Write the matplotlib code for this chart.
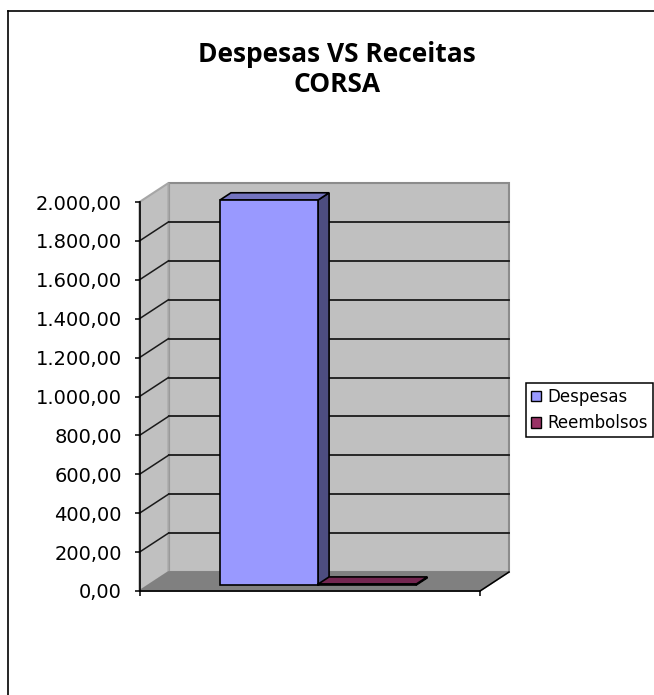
import matplotlib
matplotlib.use('Agg')
import matplotlib.pyplot as plt
from matplotlib.patches import Polygon, Patch
from matplotlib.lines import Line2D

series = ['Despesas', 'Reembolsos']
values = [1980, 5]
colors = ['#9999ff', '#993366']
top_colors = ['#7373bf', '#732650']
side_colors = ['#4d4d80', '#4d1a33']
y_ticks = [0, 200, 400, 600, 800, 1000, 1200, 1400, 1600, 1800, 2000]
y_labels = ['0,00', '200,00', '400,00', '600,00', '800,00', '1.000,00',
            '1.200,00', '1.400,00', '1.600,00', '1.800,00', '2.000,00']

W, H = 654, 695
fig = plt.figure(figsize=(W / 100, H / 100), dpi=100)
ax = fig.add_axes([139.5 / W, 1 - 591 / H, 340.5 / W, 389 / H])
ax.set_xlim(0, 1)
ax.set_ylim(0, 2000)
ax.patch.set_visible(False)

# 3d depth of the box in data units
dx = 29 / 340.5
dy = 19 / 389 * 2000
bar_w = 0.288
bar_x = [0.21, 0.21 + bar_w]
# bar sits between these fractions of the depth
d0, d1 = 0.31, 0.69


def poly(pts, fc, ec, z, lw=1.2):
    ax.add_patch(Polygon(pts, closed=True, facecolor=fc, edgecolor=ec, lw=lw,
                         zorder=z, clip_on=False, joinstyle='miter'))


# walls and floor
poly([(dx, dy), (1 + dx, dy), (1 + dx, 2000 + dy), (dx, 2000 + dy)], '#c0c0c0', '#8c8c8c', 1, 1.5)
poly([(0, 0), (dx, dy), (dx, 2000 + dy), (0, 2000)], '#c0c0c0', '#a6a6a6', 1, 1.5)
poly([(0, 0), (1, 0), (1 + dx, dy), (dx, dy)], '#808080', '#808080', 1.5)

for t in y_ticks[1:-1]:
    ax.plot([dx, 1 + dx], [t + dy, t + dy], color='#1a1a1a', lw=1.3, zorder=2, clip_on=False)
    ax.plot([0, dx], [t, t + dy], color='#1a1a1a', lw=1.1, zorder=2, clip_on=False)
ax.plot([1, 1 + dx], [0, dy], color='black', lw=1.1, zorder=2, clip_on=False)

# bars
for i in range(2):
    x0 = bar_x[i] + d0 * dx
    y0 = d0 * dy
    x1 = x0 + bar_w
    y1 = y0 + values[i]
    sx = (d1 - d0) * dx
    sy = (d1 - d0) * dy
    poly([(x1, y0), (x1 + sx, y0 + sy), (x1 + sx, y1 + sy), (x1, y1)], side_colors[i], 'black', 3 + i)
    poly([(x0, y1), (x1, y1), (x1 + sx, y1 + sy), (x0 + sx, y1 + sy)], top_colors[i], 'black', 3 + i)
    ax.bar(x0, values[i], bar_w, bottom=y0, align='edge', color=colors[i],
           edgecolor='black', lw=1.2, zorder=3 + i, clip_on=False)

for s in ['top', 'right']:
    ax.spines[s].set_visible(False)
for s in ['left', 'bottom']:
    ax.spines[s].set_linewidth(1.2)
    ax.spines[s].set_zorder(6)
ax.set_yticks(y_ticks)
ax.set_yticklabels(y_labels)
ax.set_xticks([0, 1])
ax.set_xticklabels([])
ax.tick_params(axis='y', length=3.6, width=1.1, pad=9, labelsize=14, labelcolor='black')
ax.tick_params(axis='x', length=3.6, width=1.1)

fig.text(337 / W, 1 - 54 / H, 'Despesas VS Receitas', ha='center', va='center',
         fontsize=19, fontweight='bold', family='Open Sans')
fig.text(337 / W, 1 - 85 / H, 'CORSA', ha='center', va='center',
         fontsize=19, fontweight='bold', family='Open Sans')

# outer frame, only left and top are visible in the picture
fig.add_artist(Line2D([8 / W, 8 / W], [0, 1 - 11 / H], color='black', lw=1.2))
fig.add_artist(Line2D([8 / W, 1], [1 - 11 / H, 1 - 11 / H], color='black', lw=1.2))

handles = [Patch(facecolor=colors[i], edgecolor='black', lw=1, label=series[i]) for i in range(2)]
leg = fig.legend(handles=handles, loc='upper left', bbox_to_anchor=(526 / W, 1 - 383 / H),
                 borderaxespad=0, fontsize=12, fancybox=False, framealpha=1, edgecolor='black',
                 handlelength=0.6, handleheight=0.6, handletextpad=0.36, borderpad=0.3, labelspacing=0.5)
leg.get_frame().set_linewidth(1.1)

plt.savefig('out.png', dpi=100)
